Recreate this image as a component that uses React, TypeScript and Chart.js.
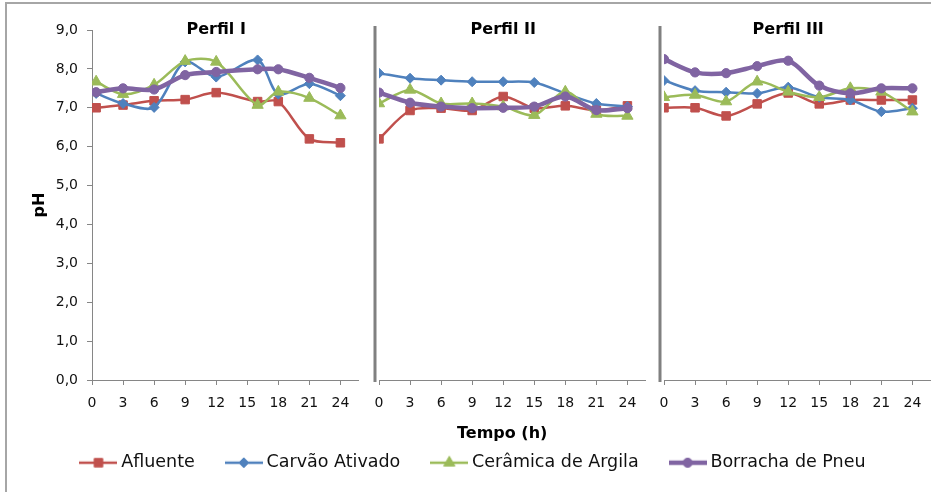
import React, { useEffect, useRef } from "react";
import { Chart, registerables } from "chart.js";

Chart.register(...registerables);

// ---------- data ----------
const SERIES = ["Afluente", "Carvão Ativado", "Cerâmica de Argila", "Borracha de Pneu"];
const PANELS = ["Perfil I", "Perfil II", "Perfil III"];
const X_TITLE = "Tempo (h)";
const Y_TITLE = "pH";

const TIME_I = [0.4, 3, 6, 9, 12, 16, 18, 21, 24];
const TIME_II = [0, 3, 6, 9, 12, 15, 18, 21, 24];
const TIME_III = [0, 3, 6, 9, 12, 15, 18, 21, 24];
const X_TICKS = [0, 3, 6, 9, 12, 15, 18, 21, 24];
const Y_TICKS = [0, 1, 2, 3, 4, 5, 6, 7, 8, 9];

const AFLUENTE_I = [7.0, 7.07, 7.18, 7.21, 7.39, 7.16, 7.16, 6.2, 6.1];
const CARVAO_I = [7.37, 7.11, 7.01, 8.18, 7.79, 8.23, 7.35, 7.62, 7.31];
const CERAMICA_I = [7.67, 7.35, 7.59, 8.2, 8.18, 7.07, 7.41, 7.25, 6.8];
const BORRACHA_I = [7.4, 7.5, 7.47, 7.84, 7.92, 7.99, 7.99, 7.77, 7.51];

const AFLUENTE_II = [6.2, 6.93, 6.99, 6.93, 7.29, 6.99, 7.05, 6.94, 7.05];
const CARVAO_II = [7.89, 7.76, 7.71, 7.67, 7.67, 7.65, 7.37, 7.11, 7.03];
const CERAMICA_II = [7.11, 7.46, 7.11, 7.11, 7.03, 6.81, 7.41, 6.84, 6.79];
const BORRACHA_II = [7.39, 7.13, 7.03, 6.99, 7.0, 7.03, 7.29, 6.94, 6.99];

const AFLUENTE_III = [7.0, 7.0, 6.79, 7.1, 7.38, 7.1, 7.2, 7.2, 7.2];
const CARVAO_III = [7.7, 7.44, 7.4, 7.37, 7.53, 7.27, 7.2, 6.9, 6.99];
const CERAMICA_III = [7.27, 7.33, 7.16, 7.67, 7.41, 7.27, 7.5, 7.41, 6.9];
const BORRACHA_III = [8.25, 7.91, 7.89, 8.07, 8.21, 7.57, 7.37, 7.5, 7.5];

const TIMES = [TIME_I, TIME_II, TIME_III];
const VALUES = [
  [AFLUENTE_I, CARVAO_I, CERAMICA_I, BORRACHA_I],
  [AFLUENTE_II, CARVAO_II, CERAMICA_II, BORRACHA_II],
  [AFLUENTE_III, CARVAO_III, CERAMICA_III, BORRACHA_III],
];

// ---------- style ----------
const COLORS = ["#C0504D", "#4F81BD", "#9BBB59", "#8064A2"];
const MARKERS = ["rect", "rectRot", "triangle", "circle"];
const RADII = [6, 5, 6.5, 4.6];
const LINE_WIDTHS = [2.5, 2.5, 2.5, 4.5];
const AXIS_COLOR = "#868686";
const TEXT_COLOR = "#111111";
const FONT = "'DejaVu Sans', Verdana, sans-serif";

function makeIcon(i: number): HTMLCanvasElement {
  const c = document.createElement("canvas");
  c.width = 38;
  c.height = 16;
  const g = c.getContext("2d") as CanvasRenderingContext2D;
  g.strokeStyle = COLORS[i];
  g.fillStyle = COLORS[i];
  g.lineWidth = LINE_WIDTHS[i];
  g.beginPath();
  g.moveTo(0, 8);
  g.lineTo(38, 8);
  g.stroke();
  const cx = 19;
  const cy = 8;
  const r = RADII[i];
  g.beginPath();
  if (MARKERS[i] === "rect") {
    const h = r * Math.SQRT1_2;
    g.rect(cx - h, cy - h, 2 * h, 2 * h);
  } else if (MARKERS[i] === "rectRot") {
    g.moveTo(cx, cy - r);
    g.lineTo(cx + r, cy);
    g.lineTo(cx, cy + r);
    g.lineTo(cx - r, cy);
    g.closePath();
  } else if (MARKERS[i] === "triangle") {
    let a = 0;
    g.moveTo(cx + Math.sin(a) * r, cy - Math.cos(a) * r);
    a += (2 * Math.PI) / 3;
    g.lineTo(cx + Math.sin(a) * r, cy - Math.cos(a) * r);
    a += (2 * Math.PI) / 3;
    g.lineTo(cx + Math.sin(a) * r, cy - Math.cos(a) * r);
    g.closePath();
  } else {
    g.arc(cx, cy, r, 0, Math.PI * 2);
  }
  g.fill();
  g.lineWidth = 1;
  g.stroke();
  return c;
}

const decorPlugin = {
  id: "decor",
  beforeDraw(chart: any) {
    const { ctx, width, height } = chart;
    ctx.save();
    ctx.fillStyle = "#ffffff";
    ctx.fillRect(0, 0, width, height);
    ctx.fillStyle = "#a6a6a6";
    ctx.fillRect(5, 2, width - 5, 2);
    ctx.fillRect(5, 2, 2, height - 2);
    ctx.restore();
  },
  beforeDatasetsDraw(chart: any) {
    const { ctx, chartArea, scales } = chart;
    ctx.save();
    ctx.fillStyle = "#808080";
    ["x2", "x3"].forEach((id) => {
      const s = scales[id];
      ctx.fillRect(s.left - 5.5, chartArea.top - 4, 3, chartArea.bottom - chartArea.top + 6);
    });
    ctx.restore();
  },
  afterDraw(chart: any) {
    const { ctx, chartArea, scales } = chart;
    ctx.save();
    ctx.fillStyle = "#000000";
    ctx.font = `bold 16px ${FONT}`;
    ctx.textAlign = "center";
    ctx.textBaseline = "middle";
    PANELS.forEach((t, i) => {
      const s = scales["x" + (i + 1)];
      ctx.fillText(t, s.getPixelForValue(12), chartArea.top);
    });
    const x1 = scales.x1;
    const x3 = scales.x3;
    ctx.fillText(
      X_TITLE,
      (x1.getPixelForValue(X_TICKS[0]) + x3.getPixelForValue(X_TICKS[X_TICKS.length - 1])) / 2,
      chartArea.bottom + 54
    );
    ctx.restore();
  },
};

function xAxis() {
  return {
    type: "linear",
    axis: "x",
    position: "bottom",
    stack: "time",
    stackWeight: 266,
    min: 0,
    max: 25.7,
    afterFit: (s: any) => {
      s.height = 39;
      s.paddingLeft = 0;
      s.paddingRight = 0;
    },
    afterBuildTicks: (s: any) => {
      s.ticks = X_TICKS.map((v) => ({ value: v }));
    },
    border: { display: true, color: AXIS_COLOR, width: 1 },
    grid: { display: true, drawOnChartArea: false, drawTicks: true, tickLength: 5, color: AXIS_COLOR },
    ticks: {
      autoSkip: false,
      maxRotation: 0,
      minRotation: 0,
      padding: 10,
      color: TEXT_COLOR,
      font: { size: 14, family: FONT },
    },
  };
}

function gapAxis(weight: number) {
  return {
    type: "linear",
    axis: "x",
    position: "bottom",
    stack: "time",
    stackWeight: weight,
    display: false,
  };
}

export default function App() {
  const ref = useRef<HTMLCanvasElement>(null);

  useEffect(() => {
    const canvas = ref.current;
    if (!canvas) return;
    const icons = SERIES.map((_, i) => makeIcon(i));

    const datasets: any[] = [];
    VALUES.forEach((panel, p) => {
      panel.forEach((vals, s) => {
        datasets.push({
          label: SERIES[s],
          data: vals.map((v, k) => ({ x: TIMES[p][k], y: v })),
          xAxisID: "x" + (p + 1),
          yAxisID: "y",
          borderColor: COLORS[s],
          backgroundColor: COLORS[s],
          borderWidth: LINE_WIDTHS[s],
          pointStyle: MARKERS[s],
          pointRadius: RADII[s],
          pointBorderWidth: 1,
          pointBackgroundColor: COLORS[s],
          pointBorderColor: COLORS[s],
          tension: 0.3,
          fill: false,
          order: 3 - s,
        });
      });
    });

    const chart = new Chart(canvas, {
      type: "line",
      data: { datasets },
      options: {
        responsive: false,
        animation: false,
        events: [],
        layout: { autoPadding: false, padding: { top: 30, left: 20, right: 1, bottom: 10.5 } },
        scales: {
          x1: xAxis(),
          gap1: gapAxis(21),
          x2: xAxis(),
          gap2: gapAxis(19),
          x3: xAxis(),
          y: {
            type: "linear",
            position: "left",
            min: 0,
            max: 9,
            afterFit: (s: any) => {
              s.width = 72;
            },
            afterBuildTicks: (s: any) => {
              s.ticks = Y_TICKS.map((v) => ({ value: v }));
            },
            border: { display: true, color: AXIS_COLOR, width: 1 },
            grid: { display: true, drawOnChartArea: false, drawTicks: true, tickLength: 5, color: AXIS_COLOR },
            ticks: {
              padding: 9,
              color: TEXT_COLOR,
              font: { size: 14, family: FONT },
              callback: (v: any) => Number(v).toFixed(1).replace(".", ","),
            },
            title: {
              display: true,
              text: Y_TITLE,
              color: "#000000",
              font: { size: 16, weight: "bold", family: FONT },
              padding: { top: 10, bottom: 0 },
            },
          },
        } as any,
        plugins: {
          tooltip: { enabled: false },
          legend: {
            display: true,
            position: "bottom",
            labels: {
              usePointStyle: true,
              pointStyleWidth: 28,
              padding: 35,
              color: TEXT_COLOR,
              font: { size: 17.5, family: FONT },
              generateLabels: () =>
                SERIES.map((name, i) => ({
                  text: name,
                  pointStyle: icons[i] as any,
                  fillStyle: COLORS[i],
                  strokeStyle: COLORS[i],
                  lineWidth: 0,
                  hidden: false,
                  datasetIndex: i,
                  fontColor: TEXT_COLOR,
                })),
            },
          },
        },
      } as any,
      plugins: [decorPlugin],
    });

    return () => chart.destroy();
  }, []);

  return (
    <div style={{ position: "absolute", left: 0, top: 0, width: 931, height: 492 }}>
      <canvas ref={ref} width={931} height={492} style={{ display: "block" }} />
    </div>
  );
}
